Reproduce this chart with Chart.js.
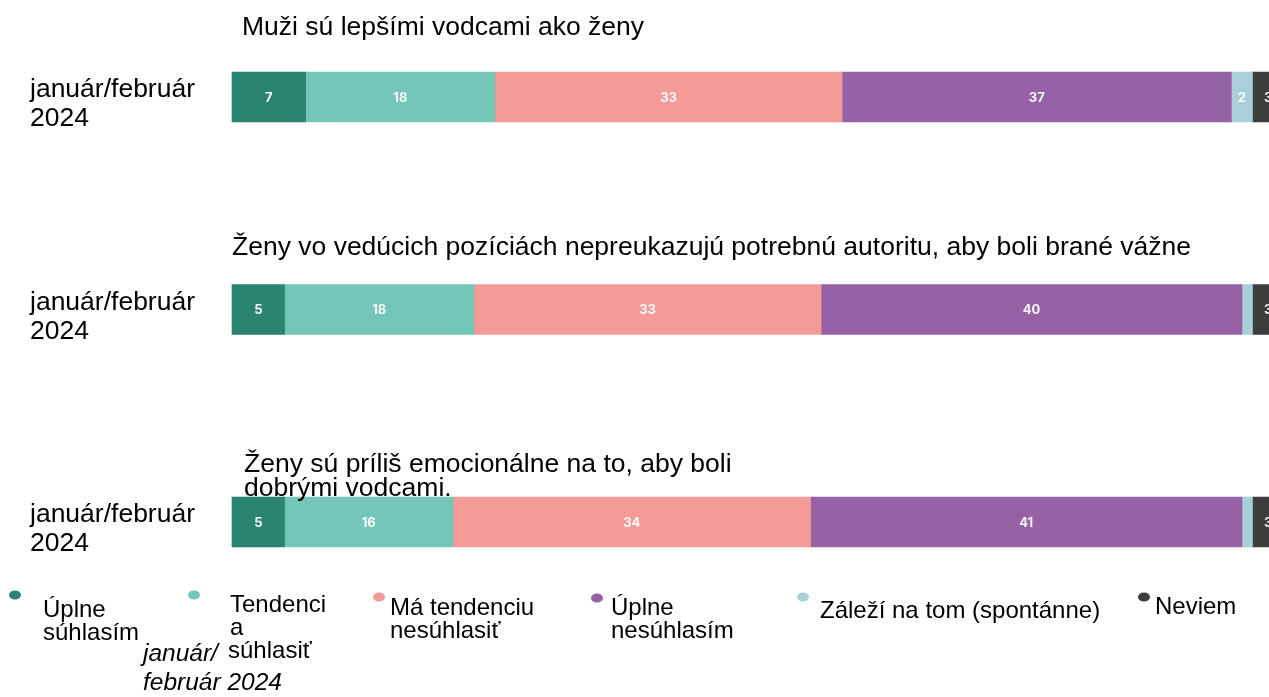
<!DOCTYPE html>
<html lang="sk">
<head>
<meta charset="utf-8">
<title>Postoje k ženám vo vedení</title>
<script src="https://cdn.jsdelivr.net/npm/chart.js@4/dist/chart.umd.min.js"></script>
<style>
  html, body { margin: 0; padding: 0; background: #ffffff; overflow: hidden; }
  #wrap { position: absolute; left: 0; top: 0; width: 1284px; height: 697px; }
</style>
</head>
<body>
<div id="wrap"><canvas id="chart"></canvas></div>
<script>
// Survey rows (one per statement), wave label on the left
const categories = ['január/február 2024', 'január/február 2024', 'január/február 2024'];
const waveLabelLines = ['január/február', '2024'];

// Statement headings above each row
const statements = [
  ['Muži sú lepšími vodcami ako ženy'],
  ['Ženy vo vedúcich pozíciách nepreukazujú potrebnú autoritu, aby boli brané vážne'],
  ['Ženy sú príliš emocionálne na to, aby boli', 'dobrými vodcami.']
];

// Answer shares in % per statement
const upleSuhlasim     = [7, 5, 5];
const tendenciaSuhlas  = [18, 18, 16];
const tendenciaNesuhl  = [33, 33, 34];
const upleNesuhlasim   = [37, 40, 41];
const zalezi           = [2, 1, 1];
const neviem           = [3, 3, 3];

// Legend entries (as wrapped in the legend row)
const legendLines = [
  ['Úplne', 'súhlasím'],
  ['Tendenci', 'a', 'súhlasiť'],
  ['Má tendenciu', 'nesúhlasiť'],
  ['Úplne', 'nesúhlasím'],
  ['Záleží na tom (spontánne)'],
  ['Neviem']
];
const legendNote = ['január/', 'február 2024'];

const colors = ['#2a8470', '#74c6b8', '#f49a97', '#9662a5', '#a9cfd8', '#3d3d3d'];
const seriesNames = ['Úplne súhlasím', 'Tendencia súhlasiť', 'Má tendenciu nesúhlasiť',
                     'Úplne nesúhlasím', 'Záleží na tom (spontánne)', 'Neviem'];
const seriesValues = [upleSuhlasim, tendenciaSuhlas, tendenciaNesuhl, upleNesuhlasim, zalezi, neviem];

const FONT = '"Liberation Sans", Arial, sans-serif';

// Numbers inside the bar segments
const segmentLabels = {
  id: 'segmentLabels',
  afterDatasetsDraw(chart) {
    const ctx = chart.ctx;
    ctx.save();
    ctx.font = 'bold 13px Inter, "DejaVu Sans", sans-serif';
    ctx.fillStyle = 'rgba(255,255,255,0.93)';
    ctx.textAlign = 'center';
    ctx.textBaseline = 'middle';
    chart.data.datasets.forEach((ds, di) => {
      const meta = chart.getDatasetMeta(di);
      meta.data.forEach((bar, i) => {
        const v = ds.data[i];
        if (v < 2) return;
        const cx = (bar.x + bar.base) / 2;
        ctx.fillText(String(v), cx, bar.y + 1);
      });
    });
    ctx.restore();
  }
};

// Headings, wave labels and the legend
const annotations = {
  id: 'annotations',
  afterDraw(chart) {
    const ctx = chart.ctx;
    const y = chart.scales.y;
    ctx.save();
    ctx.fillStyle = '#000000';
    ctx.textAlign = 'left';
    ctx.textBaseline = 'middle';

    // wave labels
    ctx.font = '26.5px ' + FONT;
    categories.forEach((c, i) => {
      const py = y.getPixelForValue(i);
      ctx.fillText(waveLabelLines[0], 30, py - 7);
      ctx.fillText(waveLabelLines[1], 30, py + 22);
    });

    // statement headings
    const headX = [242, 232, 244];
    const headDy = [[-69], [-62], [-57, -33]];
    statements.forEach((lines, i) => {
      const py = y.getPixelForValue(i);
      lines.forEach((t, k) => ctx.fillText(t, headX[i], py + headDy[i][k]));
    });

    // legend
    const dotPos = [[15, 595], [194, 595], [379, 597], [597, 598], [803, 597], [1144, 597]];
    const textPos = [
      [[43, 610], [43, 633]],
      [[230, 605], [230, 628], [228, 651]],
      [[390, 608], [390, 631]],
      [[611, 608], [611, 631]],
      [[820, 611]],
      [[1155, 607]]
    ];
    ctx.font = '24px ' + FONT;
    legendLines.forEach((lines, i) => {
      ctx.fillStyle = colors[i];
      ctx.beginPath();
      ctx.ellipse(dotPos[i][0], dotPos[i][1], 6, 4.5, 0, 0, Math.PI * 2);
      ctx.fill();
      ctx.fillStyle = '#000000';
      lines.forEach((t, k) => ctx.fillText(t, textPos[i][k][0], textPos[i][k][1]));
    });
    ctx.font = 'italic 24.5px ' + FONT;
    ctx.fillText(legendNote[0], 143, 654);
    ctx.fillText(legendNote[1], 143, 683);
    ctx.restore();
  }
};

new Chart(document.getElementById('chart'), {
  type: 'bar',
  data: {
    labels: categories,
    datasets: seriesValues.map((vals, i) => ({
      label: seriesNames[i],
      data: vals,
      backgroundColor: colors[i],
      borderWidth: 0,
      barThickness: 50,
      clip: false
    }))
  },
  options: {
    indexAxis: 'y',
    responsive: true,
    maintainAspectRatio: false,
    animation: false,
    layout: { padding: { left: 232, right: 0, top: 97, bottom: 175 } },
    scales: {
      x: { stacked: true, min: 0, max: 100, display: false },
      y: { stacked: true, offset: false, display: false }
    },
    plugins: {
      legend: { display: false },
      tooltip: { enabled: false },
      title: { display: false }
    }
  },
  plugins: [segmentLabels, annotations]
});
</script>
</body>
</html>
